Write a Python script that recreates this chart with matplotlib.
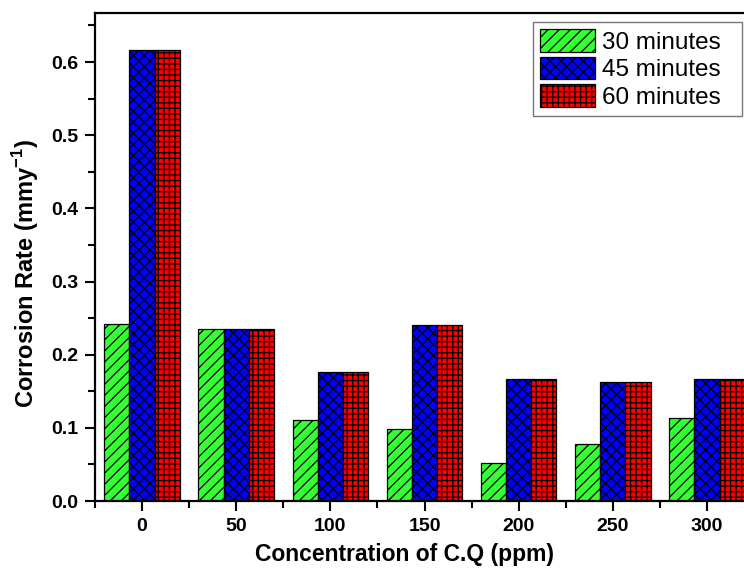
import matplotlib
matplotlib.use("Agg")
import matplotlib.pyplot as plt
import numpy as np
from matplotlib.ticker import MultipleLocator, FormatStrFormatter

plt.rcParams['font.family'] = ['Liberation Sans', 'DejaVu Sans']
plt.rcParams['hatch.linewidth'] = 0.9
plt.rcParams['mathtext.fontset'] = 'custom'
plt.rcParams['mathtext.rm'] = 'Liberation Sans'
plt.rcParams['mathtext.bf'] = 'Liberation Sans:bold'

concentrations = [0, 50, 100, 150, 200, 250, 300]
rate_30 = [0.242, 0.235, 0.111, 0.098, 0.052, 0.078, 0.113]
rate_45 = [0.616, 0.235, 0.177, 0.240, 0.167, 0.162, 0.167]
rate_60 = [0.616, 0.235, 0.177, 0.240, 0.167, 0.162, 0.167]
series_labels = ['30 minutes', '45 minutes', '60 minutes']

fig = plt.figure(figsize=(7.44, 5.69), dpi=100)
ax = fig.add_axes([95/744, 68/569, 659/744, 488/569])

x = np.array(concentrations, dtype=float)
w = 13.4
colors = ['#33ff33', '#0000ff', '#ff0000']
hatches = ['///', 'xxx', '+++']
for i, (vals, lab) in enumerate(zip([rate_30, rate_45, rate_60], series_labels)):
    ax.bar(x + (i - 1) * w, vals, width=w, color=colors[i], hatch=hatches[i],
           edgecolor='black', linewidth=0.9, label=lab)

ax.set_xlim(-25, 325)
ax.set_ylim(0, 0.667)
ax.set_xticks(concentrations)
ax.set_xticks([c + 25 for c in concentrations] + [-25], minor=True)
ax.yaxis.set_major_locator(MultipleLocator(0.1))
ax.yaxis.set_minor_locator(MultipleLocator(0.05))
ax.yaxis.set_major_formatter(FormatStrFormatter('%.1f'))

ax.tick_params(axis='both', which='major', direction='out', length=7, width=1.5,
               labelsize=14)
ax.tick_params(axis='both', which='minor', direction='out', length=5, width=1.5)
ax.tick_params(axis='x', which='major', pad=5)
ax.tick_params(axis='y', which='major', pad=5)
for lbl in ax.get_xticklabels() + ax.get_yticklabels():
    lbl.set_fontweight('bold')
for s in ax.spines.values():
    s.set_linewidth(1.6)

ax.set_xlabel('Concentration of C.Q (ppm)', fontsize=16.5, fontweight='bold')
ax.xaxis.set_label_coords(0.470, -0.086)
ax.set_ylabel('Corrosion Rate (mmy$^{\\mathbf{-1}}$)', fontsize=17, fontweight='bold')
ax.yaxis.set_label_coords(-0.082, 0.465)

leg = ax.legend(loc='upper left', bbox_to_anchor=(533/744, 1 - 111/569, 209/744, 89/569),
                bbox_transform=fig.transFigure, mode='expand',
                fontsize=17.5, frameon=True, fancybox=False, edgecolor='#555555',
                handlelength=2.25, handleheight=1.05, labelspacing=0.12, borderpad=0.3,
                handletextpad=0.3, borderaxespad=0)
leg.get_frame().set_linewidth(1.0)

fig.savefig('out.png', dpi=100)
